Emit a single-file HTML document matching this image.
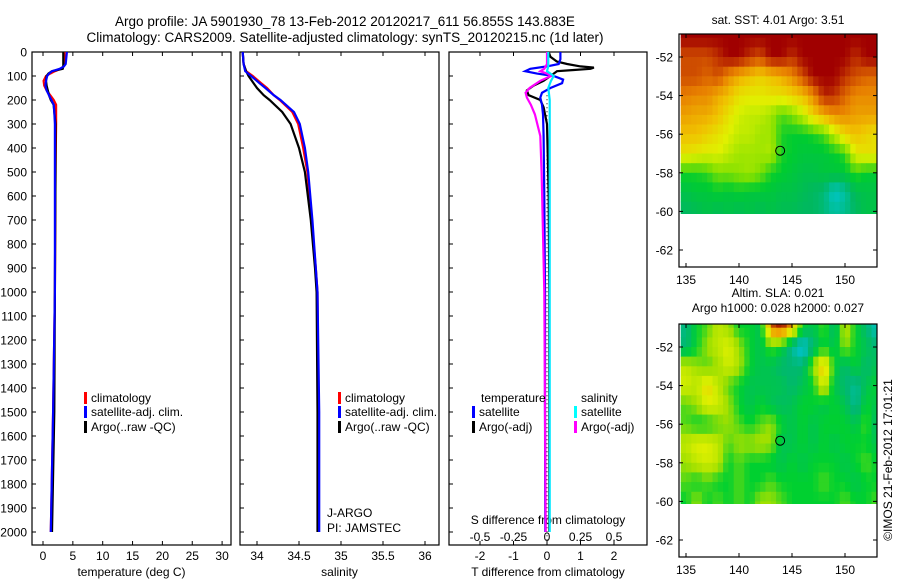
<!DOCTYPE html>
<html><head><meta charset="utf-8"><style>
html,body{margin:0;padding:0;background:#fff}
svg{display:block;font-family:"Liberation Sans",sans-serif}
text{fill:#000}
</style></head><body>
<svg id="s" width="900" height="580" viewBox="0 0 900 580">
<defs>
<clipPath id="c1"><rect x="32" y="52" width="199" height="493"/></clipPath>
<clipPath id="c2"><rect x="240" y="52" width="199" height="493"/></clipPath>
<clipPath id="c3"><rect x="449" y="52" width="198" height="493"/></clipPath>
<clipPath id="m1"><rect x="679" y="34" width="198" height="180"/></clipPath>
<clipPath id="m2"><rect x="679" y="324" width="198" height="180"/></clipPath>
</defs>
<text x="345" y="26" font-size="13.5" text-anchor="middle">Argo profile: JA 5901930_78 13-Feb-2012 20120217_611 56.855S 143.883E</text>
<text x="345" y="42" font-size="13.5" text-anchor="middle">Climatology: CARS2009. Satellite-adjusted climatology: synTS_20120215.nc (1d later)</text>
<g id="g"></g>
</svg>
<script>
// ---- profile data ----
const tDepth=[0,50,60,70,80,90,100,120,140,160,180,200,220,250,300,500,1000,1500,2000];
const tClim=[3.6,3.6,3.4,3.0,2.0,1.2,0.5,0.1,0.2,0.6,1.2,1.8,2.2,2.2,2.2,2.1,2.0,1.7,1.3];
const tSat=[4.0,3.8,3.5,2.8,1.5,1.0,0.7,0.5,0.4,0.6,1.0,1.4,1.8,1.9,2.0,2.0,2.0,1.7,1.3];
const tArgo=[3.4,3.4,3.4,3.3,1.5,0.9,0.6,0.5,0.6,0.8,1.0,1.3,1.8,1.9,2.1,2.1,2.0,1.9,1.5];
const sDepth=[0,50,80,100,130,150,180,200,250,300,400,500,700,900,1000,1500,2000];
const sClim=[33.83,33.84,33.87,33.95,34.05,34.12,34.2,34.27,34.42,34.49,34.55,34.6,34.65,34.7,34.72,34.73,34.73];
const sSat=[33.83,33.84,33.86,33.93,34.03,34.1,34.2,34.28,34.44,34.51,34.57,34.61,34.66,34.7,34.72,34.74,34.74];
const sArgo=[33.83,33.84,33.87,33.9,33.96,34.0,34.08,34.15,34.3,34.4,34.5,34.57,34.64,34.69,34.71,34.72,34.72];
// ---- difference data ----
const dtSatDepth=[0,30,50,60,70,80,90,100,115,130,150,170,190,220,260,350,600,1000,1500,2000];
const dtSat=[0.4,0.4,0.35,0.0,-0.5,-0.65,-0.3,0.2,0.48,0.45,0.1,-0.15,-0.2,-0.15,-0.12,-0.1,-0.08,-0.06,-0.06,-0.05];
const dtArgoDepth=[0,20,40,50,60,65,70,75,80,90,100,120,140,160,180,200,230,300,600,1000,1500,2000];
const dtArgo=[0.05,0.1,0.3,0.6,1.0,1.4,1.3,0.8,0.3,0.2,0.1,-0.1,-0.4,-0.6,-0.55,-0.2,-0.1,0.0,0.05,0.07,0.07,0.07];
const dsSatDepth=[0,60,80,100,120,150,200,400,1000,2000];
const dsSat=[0.01,0.01,0.0,0.05,0.03,0.01,0.02,0.02,0.02,0.02];
const dsArgoDepth=[0,50,70,80,90,100,120,150,170,190,220,260,350,500,1000,2000];
const dsArgo=[0.0,0.0,-0.02,-0.05,0.0,0.03,-0.05,-0.13,-0.16,-0.15,-0.12,-0.09,-0.05,-0.04,-0.02,-0.01];
// ---- ticks ----
const depthTicks=[0,100,200,300,400,500,600,700,800,900,1000,1100,1200,1300,1400,1500,1600,1700,1800,1900,2000];
const tempTicks=[0,5,10,15,20,25,30];
const salTicks=[34,34.5,35,35.5,36];
const dtTicks=[-2,-1,0,1,2];
const dsTicks=[-0.5,-0.25,0,0.25,0.5];
const lonTicks=[135,140,145,150];
const latTicks=[-52,-54,-56,-58,-60,-62];
// ---- map data ----
const mapLons=[135,136,137,138,139,140,141,142,143,144,145,146,147,148,149,150,151,152,153];
const mapLats=[-51,-52,-53,-54,-55,-56,-57,-58,-59,-60];
const sstGrid=[
[6.5,6.5,6.5,6.5,6.5,6.5,6.5,6.5,6.5,6.5,6.5,6.5,6.5,6.5,6.5,6.5,6.5,6.5,6.5],
[6,6,6,6.2,6.5,6.5,6.2,6,6.5,6.5,6.2,6.5,6.5,6.5,6.5,6.5,6.2,6.5,6.5],
[6,6,5.8,6,5.5,5.2,5,4.8,5,5.2,5.5,6,6.5,6.5,6.5,6.2,6,5.8,5.8],
[5.6,5.5,5.5,5.2,5,4.6,4.5,4.5,4.6,4.6,4.8,5,5.5,6.3,6.2,5.8,5.5,5.5,5.5],
[5.3,5.2,5.2,5,4.6,4.3,4.2,4.2,4.0,3.6,3.8,4.2,4.8,5.2,5.5,5.5,5.3,5.3,5.3],
[5,5,4.8,4.6,4.4,4.2,4.2,4,4,3.4,3.3,3.3,3.4,3.6,4.2,4.8,5,4.8,4.6],
[4.6,4.5,4.4,4.4,4.2,4.0,4.0,4.0,4.1,3.4,3.3,3.2,3.2,3.2,3.3,3.5,4.5,4.6,4.6],
[3.4,3.4,3.5,3.8,3.8,3.9,4.0,3.8,3.4,3.3,3.2,3.1,3.1,3.2,3.2,3.2,3.5,3.3,3.3],
[3.1,3.2,3.2,3.3,3.2,3.3,3.2,3.2,3.2,3.1,3.1,3.0,2.9,2.8,2.4,2.6,3.0,3.1,3.1],
[2.9,3.0,3.1,3.0,3.1,3.0,3.1,3.0,3.1,3.0,3.0,2.9,2.9,2.8,2.6,2.7,2.9,3.1,3.1]];
const slaGrid=[
[-0.12,0.0,0.05,0.15,0.1,0.0,0.0,-0.05,0.35,0.4,0.3,0.0,-0.05,0.05,-0.1,0.15,0.0,-0.1,-0.2],
[-0.1,0.0,0.1,0.15,0.2,0.1,0.0,-0.05,0.05,0.0,-0.15,-0.25,-0.1,0.0,-0.05,0.1,0.0,-0.05,-0.1],
[0.15,0.1,0.05,0.1,0.18,0.12,0.0,-0.05,-0.05,-0.1,-0.1,-0.1,0.1,0.3,0.0,-0.1,0.0,-0.1,-0.05],
[0.18,0.15,0.25,0.15,0.05,0.0,-0.05,-0.05,-0.05,-0.05,-0.1,-0.05,0.0,0.2,-0.05,-0.1,-0.15,-0.05,0.0],
[0.05,0.1,0.2,0.18,0.1,0.0,-0.05,0.0,-0.05,-0.08,-0.05,0.0,0.0,-0.05,0.0,-0.05,-0.15,0.0,-0.05],
[0.05,0.0,0.0,0.05,0.1,0.05,0.0,0.05,0.1,0.0,-0.05,0.0,-0.05,0.0,0.0,0.0,-0.05,0.05,-0.1],
[0.15,0.2,0.2,0.15,0.05,0.1,0.1,0.12,0.1,-0.05,-0.05,0.0,-0.05,0.0,-0.05,0.0,0.0,0.0,-0.05],
[0.1,0.15,0.18,0.15,0.0,0.05,0.0,0.0,-0.02,-0.05,0.0,-0.05,0.0,0.0,0.0,-0.05,0.0,0.05,0.0],
[0.05,0.0,0.05,0.0,0.0,0.05,0.0,0.0,0.05,0.0,0.0,0.0,0.0,0.05,0.0,0.0,-0.05,0.0,0.0],
[0.0,0.1,0.0,0.05,0.0,0.05,0.0,0.1,0.1,0.05,0.0,0.0,0.0,0.0,0.0,0.05,0.0,0.0,0.05]];
const argoLon=[143.883];
const argoLat=[-56.855];

const NS='http://www.w3.org/2000/svg';
const G=document.getElementById('g');
function mk(tag,at,parent){const e=document.createElementNS(NS,tag);for(const k in at)e.setAttribute(k,at[k]);(parent||G).appendChild(e);return e;}
function txt(x,y,s,size,anchor,parent){const e=mk('text',{x:x,y:y,'font-size':size,'text-anchor':anchor},parent);e.textContent=s;return e;}

const yD=d=>52+d*0.24;
const xT=v=>43+v*5.97;
const xS=v=>257+(v-34)*84;
const xDT=v=>547+v*33.5;
const xDS=v=>547+v*134;

function panel(x0,w,name){
  const r=mk('rect',{x:x0,y:52,width:w,height:493,fill:'none',stroke:'#000','stroke-width':1.2});
  
  
}
panel(32,199,'temperature-panel');panel(240,199,'salinity-panel');panel(449,198,'difference-panel');

const ya=mk('g',{});


depthTicks.forEach(d=>{
  txt(27,yD(d)+4.5,String(d),12,'end',ya);
  [32,240,449].forEach(x0=>mk('line',{x1:x0,x2:x0+4,y1:yD(d),y2:yD(d),stroke:'#000'},ya));
});
function xaxis(ticks,fx,labelY,x0,w,name,lab){
  const g=mk('g',{});
  
  
  ticks.forEach(t=>{const x=fx(t);
    mk('line',{x1:x,x2:x,y1:545,y2:541,stroke:'#000'},g);
    mk('line',{x1:x,x2:x,y1:52,y2:56,stroke:'#000'},g);
    txt(x,labelY,String(t),12,'middle',g);});
  if(lab)txt(x0+w/2,576,lab,12,'middle',g);
  return g;
}
xaxis(tempTicks,xT,560,32,199,'temperature-x-axis','temperature (deg C)');
xaxis(salTicks,xS,560,240,199,'salinity-x-axis','salinity');
xaxis(dtTicks,xDT,560,449,198,'t-difference-x-axis','T difference from climatology');
const dsg=mk('g',{});


dsTicks.forEach(t=>txt(xDS(t),541,String(t),12,'middle',dsg));
txt(548,524,'S difference from climatology',12,'middle',dsg);

function line(ds,vs,fx,color,clip,name){
  const pts=ds.map((d,i)=>fx(vs[i]).toFixed(1)+','+yD(d).toFixed(1)).join(' ');
  const p=mk('polyline',{points:pts,fill:'none',stroke:color,'stroke-width':2.2,'clip-path':'url(#'+clip+')'});
  
  
}
line(tDepth,tClim,xT,'#ff0000','c1','temp-climatology-line');
line(tDepth,tArgo,xT,'#000000','c1','temp-argo-line');
line(tDepth,tSat,xT,'#0000ff','c1','temp-satellite-line');
line(sDepth,sClim,xS,'#ff0000','c2','sal-climatology-line');
line(sDepth,sArgo,xS,'#000000','c2','sal-argo-line');
line(sDepth,sSat,xS,'#0000ff','c2','sal-satellite-line');
const z=mk('line',{x1:xDT(0),x2:xDT(0),y1:yD(180),y2:545,stroke:'#000','stroke-dasharray':'1,3'});


line(dtArgoDepth,dtArgo,xDT,'#000000','c3','t-diff-argo-line');
line(dtSatDepth,dtSat,xDT,'#0000ff','c3','t-diff-satellite-line');
line(dsArgoDepth,dsArgo,xDS,'#ff00ff','c3','s-diff-argo-line');
line(dsSatDepth,dsSat,xDS,'#00e8ff','c3','s-diff-satellite-line');

function legend(x,y,color,label,name){
  const g=mk('g',{});
  
  
  mk('rect',{x:x,y:y-10,width:3,height:12,fill:color},g);
  txt(x+7,y,label,12,'start',g);
}
legend(84,402,'#ff0000','climatology','legend-temp-climatology');
legend(84,416,'#0000ff','satellite-adj. clim.','legend-temp-satellite');
legend(84,431,'#000','Argo(..raw -QC)','legend-temp-argo');
legend(338,402,'#ff0000','climatology','legend-sal-climatology');
legend(338,416,'#0000ff','satellite-adj. clim.','legend-sal-satellite');
legend(338,431,'#000','Argo(..raw -QC)','legend-sal-argo');
txt(481,402,'temperature',12,'start');
txt(581,402,'salinity',12,'start');
legend(472,416,'#0000ff','satellite','legend-tdiff-satellite');
legend(472,431,'#000','Argo(-adj)','legend-tdiff-argo');
legend(574,416,'#00ffff','satellite','legend-sdiff-satellite');
legend(574,431,'#ff00ff','Argo(-adj)','legend-sdiff-argo');
const ja=mk('g',{});


txt(327,517,'J-ARGO',12,'start',ja);txt(327,532,'PI: JAMSTEC',12,'start',ja);

// ---- maps ----
function lerpColor(stops,v){
  if(v<=stops[0][0])return stops[0][1];
  for(let i=1;i<stops.length;i++){if(v<=stops[i][0]){const a=stops[i-1],b=stops[i],t=(v-a[0])/(b[0]-a[0]);
    const ca=a[1].match(/\w\w/g).map(h=>parseInt(h,16)),cb=b[1].match(/\w\w/g).map(h=>parseInt(h,16));
    return 'rgb('+ca.map((c,k)=>Math.round(c+(cb[k]-c)*t)).join(',')+')';}}
  return stops[stops.length-1][1];
}
const sstStops=[[1.5,'#0030ff'],[2.3,'#00c8e0'],[2.9,'#00b860'],[3.3,'#00cc30'],[3.8,'#80e000'],[4.4,'#e0f000'],[5.0,'#f0c000'],[5.6,'#e88000'],[6.1,'#c84000'],[6.5,'#a00000']];
const slaStops=[[-0.3,'#0080ff'],[-0.2,'#00c0c0'],[-0.1,'#00b870'],[0,'#00d030'],[0.1,'#a0e000'],[0.2,'#e0f000'],[0.3,'#f0a000'],[0.4,'#a01000']];
function sample(grid,fi,fj){
  fi=Math.max(0,Math.min(grid.length-1,fi));fj=Math.max(0,Math.min(grid[0].length-1,fj));
  const i0=Math.floor(fi),j0=Math.floor(fj),i1=Math.min(i0+1,grid.length-1),j1=Math.min(j0+1,grid[0].length-1);
  const a=fi-i0,b=fj-j0;
  return grid[i0][j0]*(1-a)*(1-b)+grid[i0][j1]*(1-a)*b+grid[i1][j0]*a*(1-b)+grid[i1][j1]*a*b;
}
function map(top,grid,stops,clip,name,t1,t2){
  const xL=v=>686+(v-135)*10.6;
  const yL=v=>top+23+(-52-v)*19.3;
  const g=mk('g',{});
  
  
  const cg=mk('g',{'clip-path':'url(#'+clip+')'},g);
  const step=0.5;
  for(let la=mapLats[0]+0.5;la>mapLats[mapLats.length-1]-0.5;la-=step){
    for(let lo=mapLons[0]-0.5;lo<mapLons[mapLons.length-1]+0.5;lo+=step){
      const fi=(mapLats[0]-(la-step/2)), fj=(lo+step/2-mapLons[0]);
      const c=mk('rect',{x:xL(lo).toFixed(1),y:yL(la).toFixed(1),width:(10.6*step+0.4).toFixed(1),height:(19.3*step+0.4).toFixed(1),fill:lerpColor(stops,sample(grid,fi,fj))},cg);
      
      
    }
  }
  mk('rect',{x:679,y:top,width:198,height:233,fill:'none',stroke:'#000','stroke-width':1.2},g);
  lonTicks.forEach(l=>{const x=xL(l);
    mk('line',{x1:x,x2:x,y1:top,y2:top+4,stroke:'#000'},g);
    mk('line',{x1:x,x2:x,y1:top+233,y2:top+229,stroke:'#000'},g);
    txt(x,top+250,String(l),12,'middle',g);});
  latTicks.forEach(l=>{const y=yL(l);
    mk('line',{x1:679,x2:683,y1:y,y2:y,stroke:'#000'},g);
    mk('line',{x1:877,x2:873,y1:y,y2:y,stroke:'#000'},g);
    txt(673,y+4.5,String(l),12,'end',g);});
  const c=mk('circle',{cx:xL(argoLon[0]),cy:yL(argoLat[0]),r:4.5,fill:'none',stroke:'#000'},g);
  
  
  if(t2){txt(778,top-27,t1,12,'middle',g);txt(778,top-12,t2,12,'middle',g);}
  else txt(778,top-10,t1,12,'middle',g);
}
map(34,sstGrid,sstStops,'m1','sst-map','sat. SST: 4.01  Argo: 3.51');
map(324,slaGrid,slaStops,'m2','sla-map','Altim. SLA: 0.021','Argo h1000: 0.028 h2000: 0.027');
const cr=txt(0,0,'©IMOS 21-Feb-2012 17:01:21',12,'middle');
cr.setAttribute('transform','translate(892,460) rotate(-90)');


</script>
</body></html>
